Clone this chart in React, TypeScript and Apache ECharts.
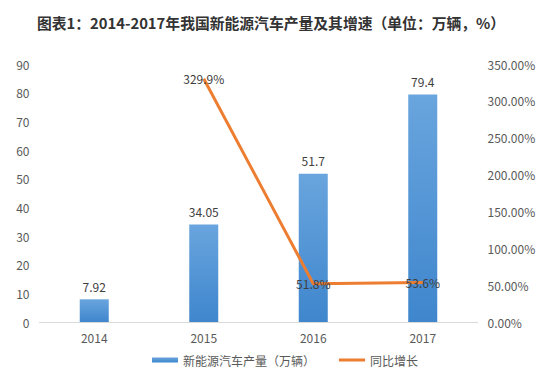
import React, { useEffect, useRef } from "react";
import * as echarts from "echarts";

const categories = ["2014", "2015", "2016", "2017"];
const production = [7.92, 34.05, 51.7, 79.4];
const growth: (number | null)[] = [null, 329.9, 51.8, 53.6];
const growthLabels = ["", "329.9%", "51.8%", "53.6%"];

const FONT = "'Noto Sans CJK SC', 'Noto Sans', sans-serif";

export default function App() {
  const ref = useRef<HTMLDivElement>(null);
  useEffect(() => {
    if (!ref.current) return;
    const chart = echarts.init(ref.current, null, { renderer: "svg" });
    chart.setOption({
      animation: false,
      backgroundColor: "#ffffff",
      textStyle: { fontFamily: FONT },
      title: {
        text: "图表1：2014-2017年我国新能源汽车产量及其增速（单位：万辆，%）",
        left: "center",
        top: 10,
        textStyle: { fontSize: 14.8, fontWeight: "bold", color: "#333333", fontFamily: FONT },
      },
      legend: {
        bottom: 12,
        left: 147,
        itemGap: 24,
        itemWidth: 26,
        itemHeight: 5,
        textStyle: { fontSize: 12, color: "#595959", fontFamily: FONT },
        data: [
          { name: "新能源汽车产量（万辆）", icon: "rect" },
          { name: "同比增长", icon: "path://M0,0H26V3H0Z" },
        ],
      },
      grid: { left: 39.5, right: 64.5, top: 64, bottom: 61 },
      xAxis: {
        type: "category",
        data: categories,
        axisLine: { lineStyle: { color: "#d9d9d9" } },
        axisTick: { show: false },
        axisLabel: { color: "#595959", fontSize: 12, margin: 9 },
      },
      yAxis: [
        {
          type: "value",
          min: 0,
          max: 90,
          interval: 10,
          splitLine: { show: false },
          axisLine: { show: false },
          axisTick: { show: false },
          axisLabel: { color: "#595959", fontSize: 12, margin: 10 },
        },
        {
          type: "value",
          min: 0,
          max: 350,
          interval: 50,
          splitLine: { show: false },
          axisLine: { show: false },
          axisTick: { show: false },
          axisLabel: {
            color: "#595959",
            fontSize: 12,
            margin: 10,
            formatter: (v: number) => v.toFixed(2) + "%",
          },
        },
      ],
      series: [
        {
          name: "新能源汽车产量（万辆）",
          type: "bar",
          data: production,
          barWidth: 29,
          itemStyle: {
            color: new echarts.graphic.LinearGradient(0, 0, 0, 1, [
              { offset: 0, color: "#69a5de" },
              { offset: 1, color: "#3f86cd" },
            ]),
          },
          label: {
            show: true,
            position: "top",
            distance: 7,
            color: "#404040",
            fontSize: 12,
          },
        },
        {
          name: "同比增长",
          type: "line",
          yAxisIndex: 1,
          data: growth,
          symbol: "circle",
          symbolSize: 0,
          showSymbol: true,
          lineStyle: { color: "#ed7d31", width: 3 },
          itemStyle: { color: "#ed7d31" },
          label: {
            show: true,
            position: "inside",
            color: "#404040",
            fontSize: 12,
            formatter: (p: any) => growthLabels[p.dataIndex],
          },
        },
      ],
    });
    return () => chart.dispose();
  }, []);
  return (
    <div
      ref={ref}
      style={{ position: "fixed", left: 0, top: 0, width: 542, height: 383 }}
    />
  );
}
